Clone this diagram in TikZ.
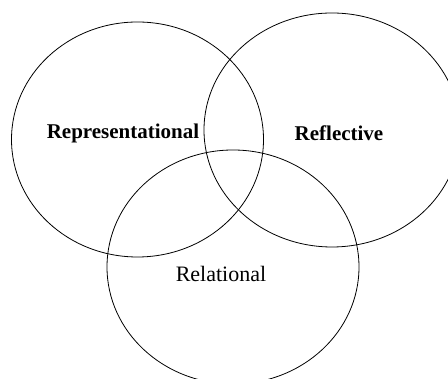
\documentclass[tikz,border=0pt]{standalone}
\usepackage{fontspec}
\setmainfont{Liberation Serif}
\usepackage{tikz}

\tikzset{setline/.style={line width=0.8pt},
    setlabel/.style={font=\fontsize{22}{24}\selectfont},
    boldlabel/.style={font=\fontsize{21}{24}\selectfont\bfseries}}

\begin{document}
\begin{tikzpicture}[x=1pt,y=1pt]
        \useasboundingbox (0,0) rectangle (448,379);
        \clip (0,0) rectangle (448,379);
        \draw[setline] (137.5,239.5) ellipse [x radius=126,y radius=117.5];
        \draw[setline] (332,249) ellipse [x radius=128,y radius=117];
        \draw[setline] (233,112) ellipse [x radius=126,y radius=117];

        \node[boldlabel] (repr) at (123,246) {Representational};
        \node[boldlabel] (refl) at (339,246) {Reflective};
        \node[setlabel] (rela) at (221,105) {Relational};
    \end{tikzpicture}
\end{document}
